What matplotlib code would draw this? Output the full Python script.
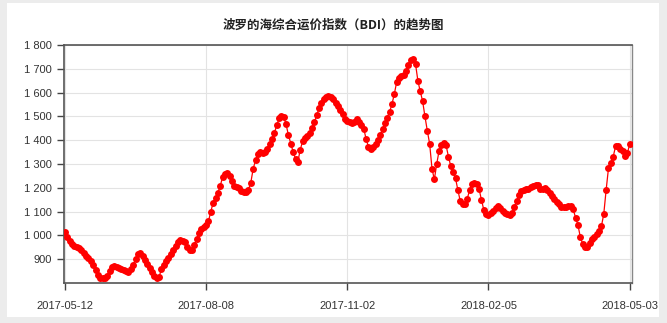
import numpy as np
import matplotlib
matplotlib.use("Agg")
import matplotlib.pyplot as plt
from matplotlib.patches import Rectangle
from matplotlib.ticker import FuncFormatter

plt.rcParams.update(
    {
        "font.family": ["Liberation Sans", "DejaVu Sans"],
        "font.size": 8,
    }
)

# BDI values (one per trading day)
bdi = [
    1015, 995, 978, 963, 957, 952, 948, 940, 926, 913,
    903, 893, 877, 855, 832, 823, 819, 821, 828, 852,
    868, 870, 868, 864, 859, 854, 850, 847, 857, 875,
    900, 920, 928, 913, 898, 880, 862, 846, 828, 822,
    825, 858, 876, 893, 906, 920, 937, 955, 972, 980,
    977, 972, 950, 938, 940, 960, 985, 1012, 1028, 1036,
    1042, 1060, 1100, 1138, 1158, 1180, 1208, 1245, 1258, 1262,
    1248, 1228, 1208, 1205, 1200, 1186, 1184, 1184, 1192, 1222,
    1280, 1315, 1340, 1352, 1345, 1350, 1363, 1385, 1405, 1430,
    1462, 1492, 1500, 1498, 1466, 1420, 1386, 1350, 1322, 1310,
    1360, 1395, 1410, 1418, 1430, 1450, 1475, 1505, 1535, 1556,
    1572, 1582, 1585, 1583, 1572, 1558, 1543, 1528, 1512, 1490,
    1482, 1476, 1472, 1475, 1487, 1478, 1465, 1448, 1405, 1372,
    1365, 1372, 1384, 1400, 1420, 1446, 1474, 1495, 1520, 1552,
    1595, 1645, 1662, 1668, 1672, 1690, 1715, 1736, 1741, 1720,
    1650, 1605, 1565, 1500, 1440, 1385, 1280, 1235, 1300, 1355,
    1378, 1389, 1378, 1330, 1290, 1268, 1240, 1190, 1145, 1132,
    1130, 1155, 1190, 1215, 1222, 1218, 1195, 1150, 1108, 1090,
    1087, 1095, 1104, 1117, 1124, 1115, 1103, 1093, 1088, 1087,
    1093, 1118, 1145, 1170, 1185, 1191, 1194, 1197, 1202, 1207,
    1210, 1210, 1193, 1195, 1198, 1190, 1180, 1165, 1152, 1140,
    1130, 1121, 1118, 1118, 1122, 1122, 1110, 1075, 1045, 995,
    965, 952, 950, 968, 985, 994, 1006, 1020, 1038, 1090,
    1190, 1282, 1305, 1330, 1374, 1377, 1365, 1354, 1334, 1345,
    1382,
]
tick_pos = [0, 60, 120, 180, 240]
tick_labels = ["2017-05-12", "2017-08-08", "2017-11-02", "2018-02-05", "2018-05-03"]
y_ticks = [900, 1000, 1100, 1200, 1300, 1400, 1500, 1600, 1700, 1800]
title = "波罗的海综合运价指数（BDI）的趋势图"

fig = plt.figure(figsize=(6.67, 3.23), dpi=100)
fig.patch.set_facecolor("#ececec")
# white card on the grey page
fig.patches.append(
    Rectangle((7 / 667, 1 - 317 / 323), 652 / 667, 314 / 323,
              transform=fig.transFigure, facecolor="white", edgecolor="none", zorder=-1)
)

ax = fig.add_axes([64 / 667, 1 - 283 / 323, 568 / 667, 238 / 323])
ax.set_zorder(1)
ax.set_facecolor("white")

x = np.arange(len(bdi))
ax.plot(x, bdi, color="#ff0000", lw=0.9, marker="o", markersize=5,
        markeredgewidth=0, zorder=3)

ax.set_xlim(-0.4, 241)
ax.set_ylim(800, 1800)
ax.set_xticks(tick_pos)
ax.set_xticklabels(tick_labels)
ax.set_yticks(y_ticks)
ax.yaxis.set_major_formatter(FuncFormatter(lambda v, p: f"{int(v):,}".replace(",", " ")))

ax.grid(True, color="#e3e3e3", lw=0.8, zorder=0)
ax.tick_params(axis="both", direction="out", length=5, width=1, colors="#444444",
               labelcolor="#333333", labelsize=8)
ax.tick_params(axis="x", pad=8)
for side in ["left", "bottom", "top"]:
    ax.spines[side].set_color("#555555")
    ax.spines[side].set_linewidth(1.2)
ax.spines["right"].set_color("#888888")
ax.spines["right"].set_linewidth(1.0)

fig.text(0.5, 1 - 25 / 323, title, ha="center", va="center", fontsize=9,
         fontweight="bold", family=["Noto Sans CJK SC", "DejaVu Sans"], color="#222222")

fig.savefig("out.png", dpi=100, facecolor=fig.get_facecolor())
